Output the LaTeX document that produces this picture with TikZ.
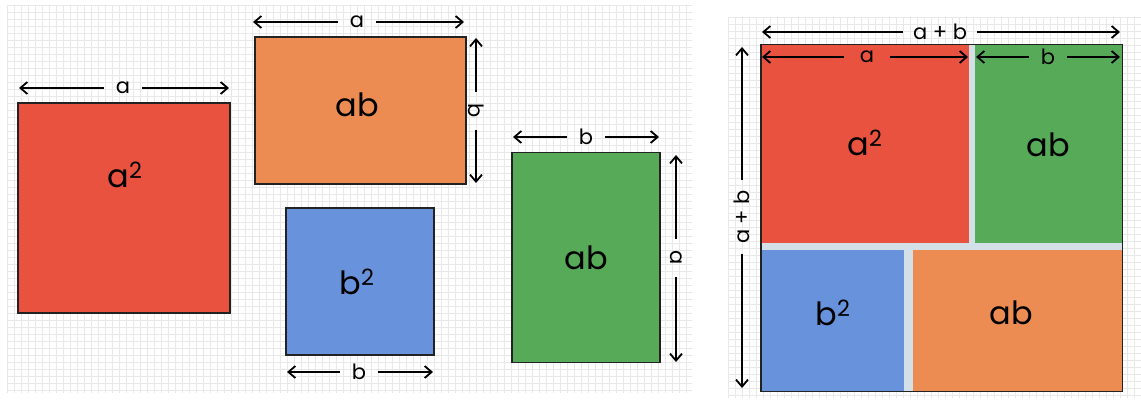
\documentclass[tikz,border=0pt]{standalone}
\usepackage{fontspec}
\setmainfont{Poppins}
\usetikzlibrary{arrows.meta}
\definecolor{redc}{RGB}{232,82,62}
\definecolor{orangec}{RGB}{236,140,82}
\definecolor{bluec}{RGB}{104,146,220}
\definecolor{greenc}{RGB}{86,170,88}
\definecolor{gridc}{RGB}{232,232,232}
\definecolor{gapc}{RGB}{212,224,232}
\definecolor{edgec}{RGB}{34,34,34}
\tikzset{
  gridline/.style={draw=gridc, line width=0.5pt},
  tile/.style={draw=edgec, line width=1.4pt, inner sep=0pt, minimum width=#1},
  flat/.style={inner sep=0pt, draw=none},
  big/.style={font=\fontsize{32}{36}\selectfont, inner sep=0pt},
  dimlbl/.style={font=\fontsize{21}{24}\selectfont, inner xsep=12pt, inner ysep=2pt},
  dimline/.style={line width=1.8pt, -{Straight Barb[length=7pt,width=12pt,line width=1.8pt]}},
}
\begin{document}
\begin{tikzpicture}[x=1pt,y=-1pt]
\useasboundingbox (0,0) rectangle (1141,401);
\fill[white] (0,0) rectangle (1141,401);
% grids
\foreach \gx in {7,14,...,692} \draw[gridline] (\gx,5) -- (\gx,393);
\foreach \gy in {5,12,...,393} \draw[gridline] (7,\gy) -- (692,\gy);
\foreach \gx in {728,735,...,1141} \draw[gridline] (\gx,17) -- (\gx,398);
\foreach \gy in {17,24,...,398} \draw[gridline] (728,\gy) -- (1141,\gy);

% ---------- left panel ----------
\node[tile=212pt, minimum height=210pt, fill=redc] (R1) at (124,208) {};
\node[big] (tR1) at (125,175) {a\textsuperscript{2}};
\node[tile=211pt, minimum height=147pt, fill=orangec] (O1) at (360.5,110.5) {};
\node[big] (tO1) at (357,105) {ab};
\node[tile=148pt, minimum height=147pt, fill=bluec] (B1) at (360,281.5) {};
\node[big] (tB1) at (357,282) {b\textsuperscript{2}};
\node[tile=148pt, minimum height=210pt, fill=greenc] (G1) at (586,257.5) {};
\node[big] (tG1) at (586,258) {ab};

% dimension arrows left panel
\coordinate (r1l) at (19,88); \coordinate (r1r) at (229,88);
\node[dimlbl] (lr1) at (123,88) {a};
\draw[dimline] (lr1.west) -- (r1l); \draw[dimline] (lr1.east) -- (r1r);

\coordinate (o1l) at (253,22); \coordinate (o1r) at (464,22);
\node[dimlbl] (lo1) at (357,22) {a};
\draw[dimline] (lo1.west) -- (o1l); \draw[dimline] (lo1.east) -- (o1r);

\coordinate (o1t) at (476,38); \coordinate (o1b) at (476,183);
\node[dimlbl, rotate=-90] (lo1v) at (476,111) {b};
\draw[dimline] (lo1v.west) -- (o1t); \draw[dimline] (lo1v.east) -- (o1b);

\coordinate (b1l) at (287,372); \coordinate (b1r) at (433,372);
\node[dimlbl] (lb1) at (359,372) {b};
\draw[dimline] (lb1.west) -- (b1l); \draw[dimline] (lb1.east) -- (b1r);

\coordinate (g1l) at (513,137); \coordinate (g1r) at (659,137);
\node[dimlbl] (lg1) at (586,137) {b};
\draw[dimline] (lg1.west) -- (g1l); \draw[dimline] (lg1.east) -- (g1r);

\coordinate (g1t) at (676,155); \coordinate (g1b) at (676,362);
\node[dimlbl, rotate=-90] (lg1v) at (676,258) {a};
\draw[dimline] (lg1v.west) -- (g1t); \draw[dimline] (lg1v.east) -- (g1b);

% ---------- right panel ----------
\node[flat, fill=gapc, minimum width=361pt, minimum height=346pt] (S) at (941.5,218) {};
\node[flat, fill=redc, minimum width=208pt, minimum height=198pt] (R2) at (865,144) {};
\node[flat, fill=greenc, minimum width=147pt, minimum height=198pt] (G2) at (1048.5,144) {};
\node[flat, fill=bluec, minimum width=143pt, minimum height=141pt] (B2) at (832.5,320.5) {};
\node[flat, fill=orangec, minimum width=209pt, minimum height=141pt] (O2) at (1017.5,320.5) {};
\draw[edgec, line width=1.4pt] (S.north west) rectangle (S.south east);
\node[big] (tR2) at (865,143) {a\textsuperscript{2}};
\node[big] (tG2) at (1048,145) {ab};
\node[big] (tB2) at (833,313) {b\textsuperscript{2}};
\node[big] (tO2) at (1011,313) {ab};

\coordinate (sl) at (762,32); \coordinate (sr) at (1120,32);
\node[dimlbl, inner xsep=10pt] (ls) at (940,32) {a + b};
\draw[dimline] (ls.west) -- (sl); \draw[dimline] (ls.east) -- (sr);

\coordinate (st) at (742,47); \coordinate (sb) at (742,388);
\node[dimlbl, rotate=90, inner xsep=10pt] (lsv) at (742,217) {a + b};
\draw[dimline] (lsv.east) -- (st); \draw[dimline] (lsv.west) -- (sb);

\coordinate (ral) at (762,57); \coordinate (rar) at (968,57);
\node[dimlbl, inner xsep=16pt] (lra) at (867,57) {a};
\draw[dimline] (lra.west) -- (ral); \draw[dimline] (lra.east) -- (rar);

\coordinate (gbl) at (976,57); \coordinate (gbr) at (1120,57);
\node[dimlbl, inner xsep=12pt] (lgb) at (1048,57) {b};
\draw[dimline] (lgb.west) -- (gbl); \draw[dimline] (lgb.east) -- (gbr);
\end{tikzpicture}
\end{document}
